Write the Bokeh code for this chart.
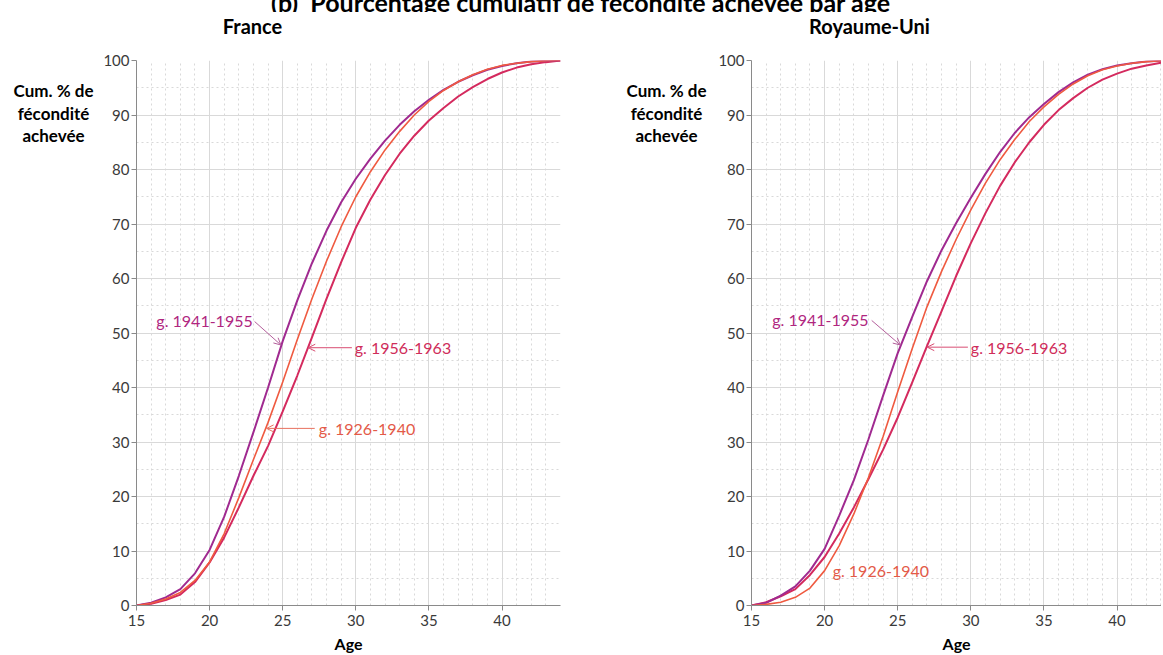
from bokeh.plotting import figure
from bokeh.models import FixedTicker, Label, Arrow, OpenHead, Div, Range1d
from bokeh.layouts import row, column
from bokeh.embed import file_html
from bokeh.resources import INLINE

# ---------------- data ----------------
ages = [15, 16, 17, 18, 19, 20, 21, 22, 23, 24, 25, 26, 27, 28, 29,
        30, 31, 32, 33, 34, 35, 36, 37, 38, 39, 40, 41, 42, 43, 44]

fr_1926_1940 = [0, 0.4, 1.2, 2.4, 4.6, 8.0, 13.2, 19.8, 26.8, 33.6, 41.0, 48.8, 56.3, 63.2, 69.5,
                75.0, 79.6, 83.6, 87.0, 90.0, 92.5, 94.5, 96.1, 97.4, 98.4, 99.1, 99.5, 99.8, 99.95, 100]
fr_1941_1955 = [0, 0.5, 1.5, 3.0, 5.9, 10.2, 16.3, 23.8, 31.8, 40.0, 48.5, 56.0, 62.8, 68.8, 74.0,
                78.3, 82.0, 85.3, 88.2, 90.7, 92.8, 94.6, 96.1, 97.3, 98.3, 99.0, 99.5, 99.8, 99.95, 100]
fr_1956_1963 = [0, 0.3, 1.0, 2.0, 4.3, 7.9, 12.5, 18.0, 23.8, 29.3, 35.6, 42.2, 49.2, 56.3, 63.0,
                69.3, 74.5, 79.0, 82.9, 86.2, 89.0, 91.3, 93.4, 95.1, 96.6, 97.8, 98.7, 99.3, 99.7, 100]

uk_1926_1940 = [0, 0.2, 0.6, 1.5, 3.2, 6.4, 11.0, 16.8, 23.5, 31.0, 39.2, 47.2, 54.8, 61.3, 67.2,
                72.6, 77.5, 81.8, 85.5, 88.8, 91.5, 93.8, 95.7, 97.2, 98.3, 99.0, 99.5, 99.8, 99.95, 100]
uk_1941_1955 = [0, 0.5, 1.8, 3.5, 6.4, 10.4, 16.5, 23.0, 30.5, 38.5, 46.3, 53.0, 59.5, 65.2, 70.2,
                74.8, 79.2, 83.2, 86.7, 89.6, 92.0, 94.2, 96.0, 97.4, 98.4, 99.1, 99.5, 99.8, 99.95, 100]
uk_1956_1963 = [0, 0.6, 1.7, 3.0, 5.6, 8.9, 13.2, 18.0, 23.2, 28.6, 34.5, 41.0, 47.6, 54.0, 60.5,
                66.5, 72.0, 77.0, 81.3, 85.0, 88.2, 90.9, 93.1, 95.0, 96.5, 97.6, 98.5, 99.1, 99.6, 100]

cohorts = ["g. 1926-1940", "g. 1941-1955", "g. 1956-1963"]
panels = ["France", "Royaume-Uni"]
x_ticks = [15, 20, 25, 30, 35, 40]
x_minor = [16, 17, 18, 19, 21, 22, 23, 24, 26, 27, 28, 29, 31, 32, 33, 34, 36, 37, 38, 39, 41, 42, 43, 44]
y_ticks = [0, 10, 20, 30, 40, 50, 60, 70, 80, 90, 100]
y_minor = [5, 15, 25, 35, 45, 55, 65, 75, 85, 95]
title = "(b)\u00a0 Pourcentage cumulatif de fécondité achevée par âge"
y_label_lines = ["Cum. % de", "fécondité", "achevée"]
x_label = "Age"

# ---------------- style ----------------
FONT = "Lato"
LINE_COL = {"g. 1926-1940": "#ef5a40", "g. 1941-1955": "#a02a90", "g. 1956-1963": "#d42a5e"}
LINE_W = {"g. 1926-1940": 1.6, "g. 1941-1955": 2.0, "g. 1956-1963": 2.0}
TEXT_COL = {"g. 1926-1940": "#e35a48", "g. 1941-1955": "#b0267f", "g. 1956-1963": "#cf2d5a"}
ARROW_COL = {"g. 1926-1940": "#e8705e", "g. 1941-1955": "#b4609c", "g. 1956-1963": "#d84d72"}
GRID = "#d9d9d9"
AXIS = "#8a8a8a"
TICK_TXT = "#3a3a3a"

TOTAL_W = 1161
TITLE_H = 12
HEADER_H = 34
PLOT_H = 609


def blank(width, height):
    f = figure(width=width, height=height, x_range=Range1d(0, width), y_range=Range1d(height, 0),
               output_backend="svg", toolbar_location=None, x_axis_type=None, y_axis_type=None,
               min_border=0, min_border_left=0, min_border_right=0, min_border_top=0,
               min_border_bottom=0)
    f.outline_line_color = None
    f.grid.visible = False
    return f


def make_panel(series, width, border_left, border_right, x_end, notes):
    p = figure(width=width, height=PLOT_H, x_range=Range1d(15, x_end), y_range=Range1d(0, 100),
               output_backend="svg", toolbar_location=None,
               min_border_left=border_left, min_border_right=border_right,
               min_border_top=14, min_border_bottom=50)
    p.outline_line_color = None

    p.xaxis.ticker = FixedTicker(ticks=x_ticks, minor_ticks=x_minor)
    p.yaxis.ticker = FixedTicker(ticks=y_ticks, minor_ticks=y_minor)
    for ax in (p.xaxis, p.yaxis):
        ax.axis_line_color = AXIS
        ax.major_tick_line_color = AXIS
        ax.major_tick_out = 5
        ax.major_tick_in = 0
        ax.minor_tick_line_color = None
        ax.major_label_text_font = FONT
        ax.major_label_text_font_size = "15px"
        ax.major_label_text_color = TICK_TXT
        ax.major_label_standoff = 2
    p.xaxis.major_label_standoff = 4
    p.xaxis.axis_label = x_label
    p.xaxis.axis_label_text_font = FONT
    p.xaxis.axis_label_text_font_style = "bold"
    p.xaxis.axis_label_text_font_size = "16px"
    p.xaxis.axis_label_text_color = "black"
    p.xaxis.axis_label_standoff = 5

    p.xgrid.grid_line_color = GRID
    p.ygrid.grid_line_color = GRID
    p.xgrid.minor_grid_line_color = GRID
    p.ygrid.minor_grid_line_color = GRID
    p.xgrid.minor_grid_line_dash = "2 3"
    p.ygrid.minor_grid_line_dash = "2 3"

    for coh in ["g. 1956-1963", "g. 1941-1955", "g. 1926-1940"]:
        p.line(ages, series[coh], line_color=LINE_COL[coh], line_width=LINE_W[coh])

    for coh, (tx, ty, align, arrow) in notes.items():
        p.add_layout(Label(x=tx, y=ty, text=coh, text_align=align, text_baseline="middle",
                           text_font=FONT, text_font_size="16px", text_color=TEXT_COL[coh]))
        if arrow is not None:
            xs, ys, xe, ye = arrow
            p.add_layout(Arrow(x_start=xs, y_start=ys, x_end=xe, y_end=ye,
                               line_color=ARROW_COL[coh], line_width=1,
                               end=OpenHead(size=7, line_color=ARROW_COL[coh], line_width=1)))
    return p


def y_label_strip(width, cx):
    f = blank(width, PLOT_H)
    for txt, yy in zip(y_label_lines, [34, 59, 84]):
        f.add_layout(Label(x=cx, y=yy, text=txt, text_align="center", text_baseline="middle",
                           text_font=FONT, text_font_style="bold", text_font_size="17px",
                           text_color="black"))
    return f


fr_notes = {
    "g. 1941-1955": (22.95, 52.3, "right", (23.08, 52.1, 24.88, 47.8)),
    "g. 1956-1963": (29.93, 47.3, "left", (29.73, 47.3, 26.75, 47.3)),
    "g. 1926-1940": (27.47, 32.5, "left", (27.19, 32.5, 23.9, 32.5)),
}
uk_notes = {
    "g. 1941-1955": (23.01, 52.5, "right", (23.22, 52.3, 25.18, 47.8)),
    "g. 1956-1963": (30.0, 47.3, "left", (29.8, 47.4, 27.02, 47.4)),
    "g. 1926-1940": (20.55, 6.4, "left", None),
}

p_fr = make_panel({"g. 1926-1940": fr_1926_1940, "g. 1941-1955": fr_1941_1955,
                   "g. 1956-1963": fr_1956_1963},
                  width=520, border_left=36, border_right=60, x_end=44, notes=fr_notes)
p_uk = make_panel({"g. 1926-1940": uk_1926_1940, "g. 1941-1955": uk_1941_1955,
                   "g. 1956-1963": uk_1956_1963},
                  width=TOTAL_W - 712, border_left=39, border_right=0, x_end=43.04, notes=uk_notes)
ylab_fr = y_label_strip(100, 53)
ylab_uk = y_label_strip(92, 46)

header = blank(TOTAL_W, HEADER_H)
for name, cx in zip(panels, [252, 869]):
    header.add_layout(Label(x=cx, y=13, text=name, text_align="center", text_baseline="middle",
                            text_font=FONT, text_font_style="bold", text_font_size="20px",
                            text_color="black"))

title_div = Div(
    text=('<div style="font-family:Lato; font-weight:bold; font-size:25px; line-height:25px; '
          'margin-top:-16px; text-align:center; white-space:nowrap; width:%dpx; color:black">'
          % TOTAL_W + title + '</div>'),
    width=TOTAL_W, height=TITLE_H, margin=0, styles={"overflow": "hidden"})

layout = column(title_div, header, row(ylab_fr, p_fr, ylab_uk, p_uk, spacing=0), spacing=0)

open("out.html", "w").write(file_html(layout, INLINE))
